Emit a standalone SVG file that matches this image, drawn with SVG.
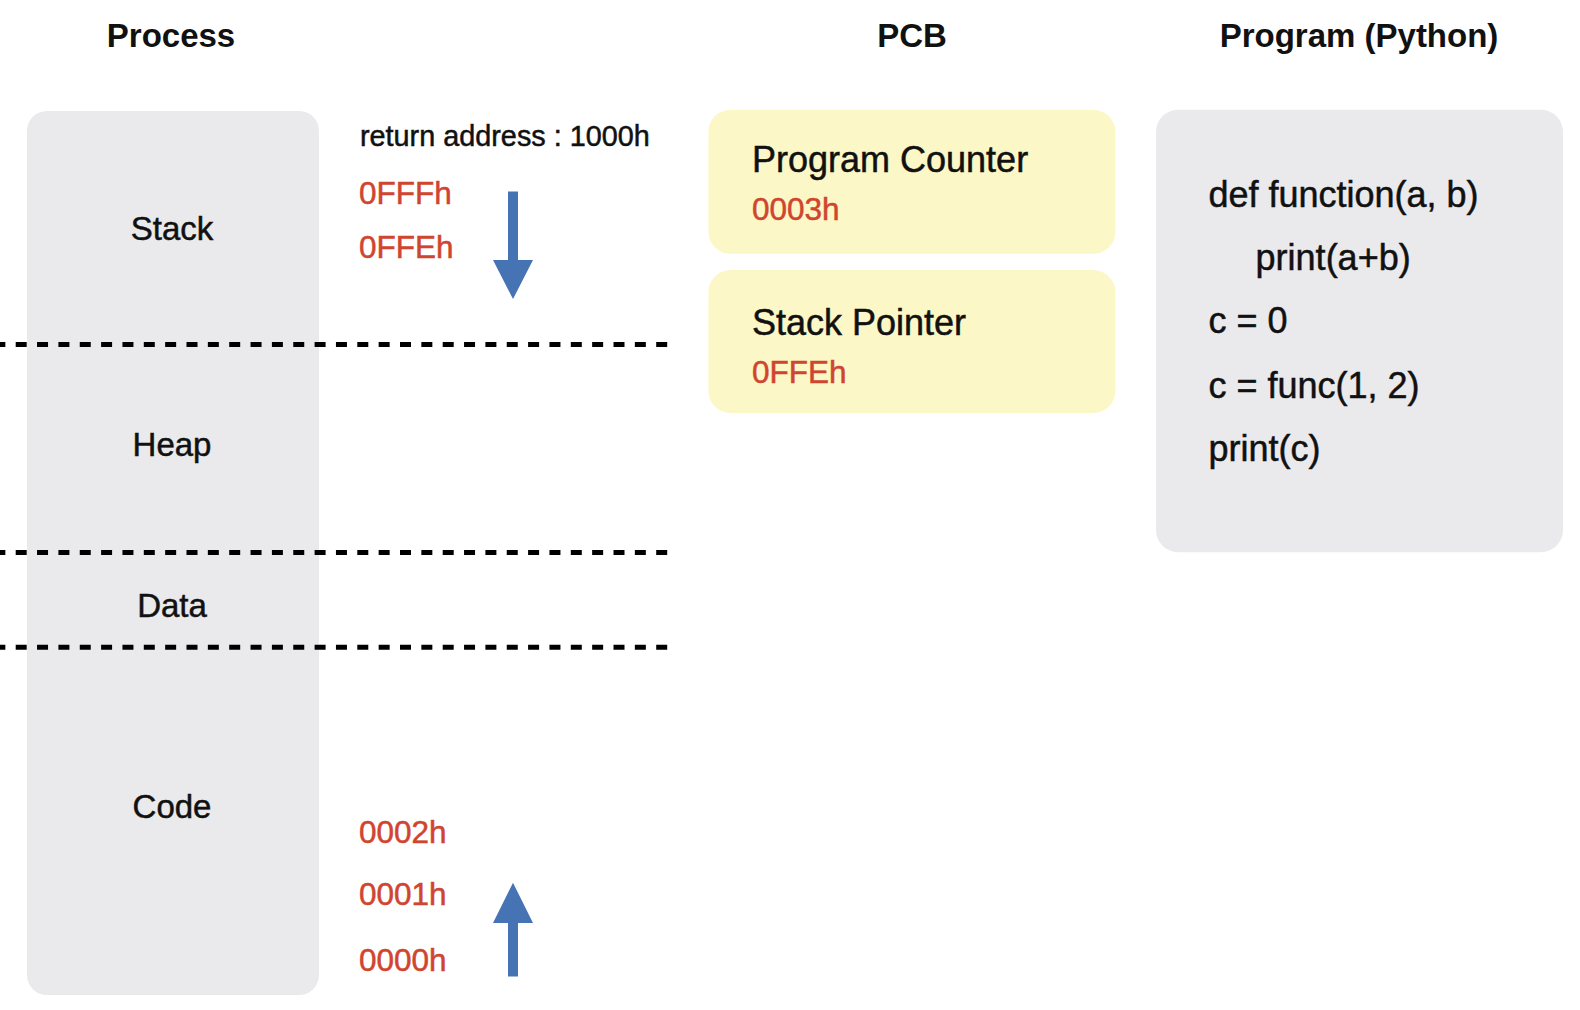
<svg xmlns="http://www.w3.org/2000/svg" width="1580" height="1010" viewBox="0 0 1580 1010">
<style>
text{font-family:"Liberation Sans",Arial,sans-serif;fill:#111;stroke:#111;stroke-width:0.5}
.title{font-size:33px;font-weight:bold;text-anchor:middle;stroke-width:0}
.seg{font-size:33px;text-anchor:middle}
.red{fill:#d0452f;stroke:#d0452f;font-size:31.5px}
.pcb{font-size:36px}
.code{font-size:36px}
.ra{font-size:28.8px}
.gray{fill:#eaeaec}
.yellow{fill:#fcf7c6}
.dash{stroke:#000;stroke-width:5;stroke-dasharray:11 10.35;stroke-dashoffset:5.65;fill:none}
.arrow{fill:#4673b3}
</style>
<rect width="1580" height="1010" fill="#fff"/>
<g id="titles">
<text class="title" x="171" y="47">Process</text>
<text class="title" x="912" y="47">PCB</text>
<text class="title" x="1359" y="47">Program (Python)</text>
</g>
<g id="process">
<rect class="gray" x="27" y="111" width="292" height="884" rx="20"/>
<text class="seg" x="172" y="239.5">Stack</text>
<text class="seg" x="172" y="456">Heap</text>
<text class="seg" x="172" y="616.5">Data</text>
<text class="seg" x="172" y="818">Code</text>
</g>
<g id="dividers">
<line class="dash" x1="0" y1="344.5" x2="668" y2="344.5"/>
<line class="dash" x1="0" y1="552.5" x2="668" y2="552.5"/>
<line class="dash" x1="0" y1="647.2" x2="668" y2="647.2"/>
</g>
<g id="stack-addresses">
<text class="ra" x="360" y="146">return address : 1000h</text>
<text class="red" x="359" y="203.8">0FFFh</text>
<text class="red" x="359" y="258.2">0FFEh</text>
</g>
<g id="code-addresses">
<text class="red" x="359" y="842.7">0002h</text>
<text class="red" x="359" y="905">0001h</text>
<text class="red" x="359" y="970.6">0000h</text>
</g>
<g id="connectors">
<polygon class="arrow" points="508,191.5 518,191.5 518,260 533,260 513,299 493,260 508,260"/>
<polygon class="arrow" points="513,882.7 533,923 518,923 518,976.5 508,976.5 508,923 493,923"/>
</g>
<g id="program-counter">
<rect class="yellow" x="708.4" y="109.8" width="407" height="144" rx="22"/>
<text class="pcb" x="752" y="172">Program Counter</text>
<text class="red" x="752" y="220">0003h</text>
</g>
<g id="stack-pointer">
<rect class="yellow" x="708.4" y="270" width="407" height="143" rx="22"/>
<text class="pcb" x="752" y="334.5">Stack Pointer</text>
<text class="red" x="752" y="383">0FFEh</text>
</g>
<g id="program">
<rect class="gray" x="1156" y="109.8" width="407" height="442.4" rx="22"/>
<text class="code" x="1208.4" y="206.5">def function(a, b)</text>
<text class="code" x="1255.6" y="270">print(a+b)</text>
<text class="code" x="1208.4" y="333.4">c = 0</text>
<text class="code" x="1208.4" y="398">c = func(1, 2)</text>
<text class="code" x="1208.4" y="461.4">print(c)</text>
</g>
</svg>
